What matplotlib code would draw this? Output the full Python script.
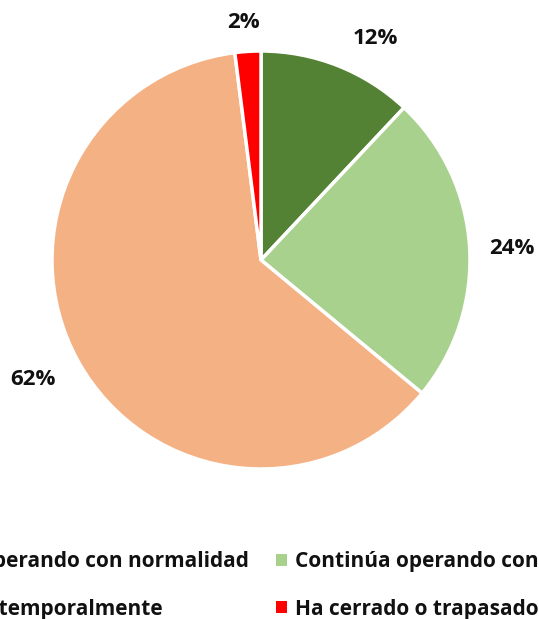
import matplotlib
matplotlib.use("Agg")
import matplotlib.pyplot as plt
from matplotlib.patches import Patch

categories = ["Continúa operando con normalidad", "Continúa operando con dificultades",
              "Ha cerrado temporalmente", "Ha cerrado o trapasado definitivamente"]
values = [12, 24, 62, 2]
pct_labels = ["12%", "24%", "62%", "2%"]
colors = ["#548235", "#A9D18E", "#F4B183", "#FF0000"]
label_pos = [(0.545, 1.06), (1.20, 0.057), (-1.09, -0.574), (-0.086, 1.135)]

W, H = 539, 619
fig = plt.figure(figsize=(W / 100, H / 100), dpi=100)
cx, cy, r = 261, 260, 209
ax = fig.add_axes([(cx - r) / W, (H - cy - r) / H, 2 * r / W, 2 * r / H])
ax.pie(values, colors=colors, startangle=90, counterclock=False, radius=1,
       wedgeprops=dict(edgecolor="white", linewidth=2.5))
ax.set_xlim(-1, 1)
ax.set_ylim(-1, 1)
ax.set_aspect("equal")
ax.axis("off")
for t, (x, y) in zip(pct_labels, label_pos):
    ax.text(x, y, t, ha="center", va="center", fontsize=16, fontweight="bold",
            family="Open Sans", color="#111111", clip_on=False)

handles = [Patch(facecolor=c, edgecolor="none") for c in colors]
order = [0, 2, 1, 3]  # row-wise filling
anchor = [0.5, 1 - 583 / H]
leg = fig.legend([handles[i] for i in order], [categories[i] for i in order],
                 ncol=2, loc="center",
                 bbox_to_anchor=tuple(anchor), frameon=False,
                 prop=dict(family="Open Sans", weight="bold", size=15),
                 handlelength=0.52, handleheight=0.52, handletextpad=0.37,
                 columnspacing=1.28, labelspacing=1.27)
for t in leg.get_texts():
    t.set_color("#111111")

# align the second-column marker to the reference position
fig.canvas.draw()
p = leg.get_patches()[2]  # first row, second column (after order)
bb = p.get_window_extent()
dx = (276 - bb.x0) / W
bb0 = leg.get_patches()[0].get_window_extent()
bb1 = leg.get_patches()[1].get_window_extent()
mid_now = H - (bb0.y0 + bb0.y1 + bb1.y0 + bb1.y1) / 4
dy = -(583.5 - mid_now) / H
leg.set_bbox_to_anchor((anchor[0] + dx, anchor[1] + dy), transform=fig.transFigure)
fig.savefig("out.png", dpi=100)
